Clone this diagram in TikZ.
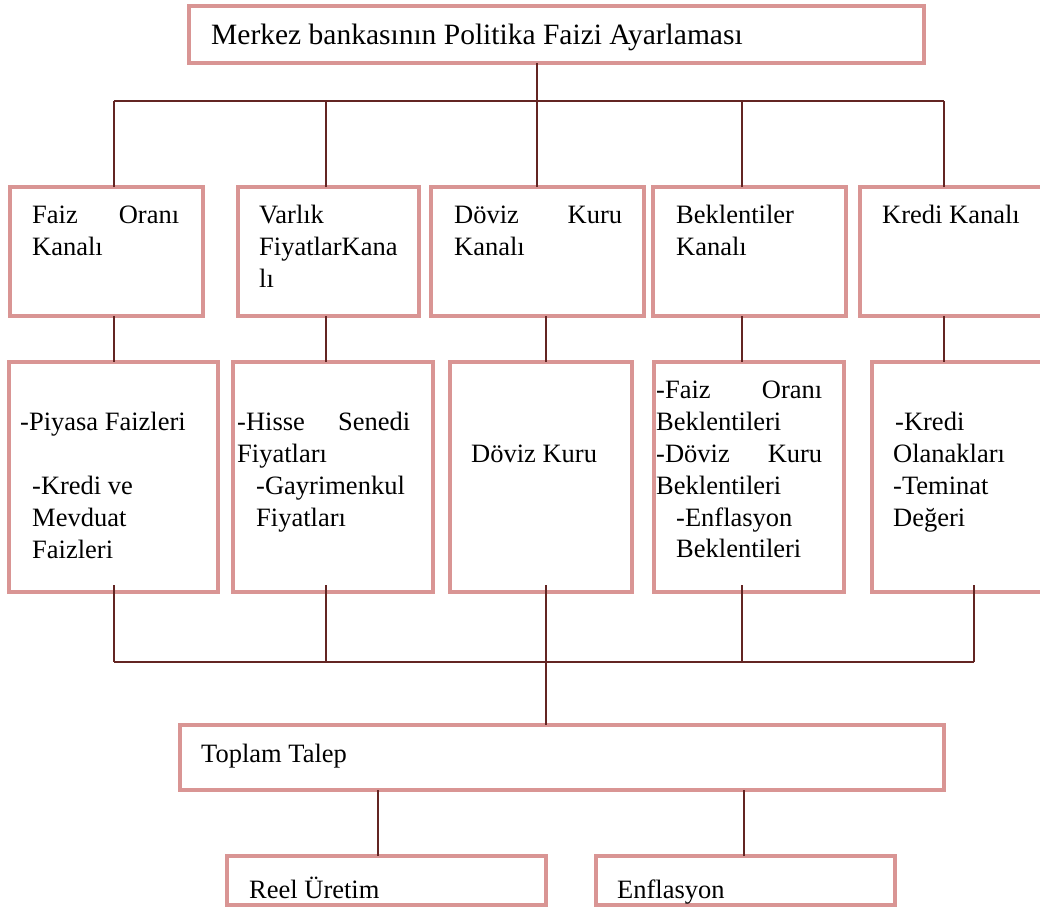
\documentclass[tikz,border=0pt]{standalone}
\usepackage{fontspec}
\setmainfont{Liberation Serif}
\definecolor{boxline}{HTML}{D99594}
\definecolor{connline}{HTML}{632523}
% a line set to a fixed width, its two words pushed to the ends
\newcommand\jline[3]{\hbox to #1pt{#2\hfill #3}}
\begin{document}
\begin{tikzpicture}[x=1pt,y=-1pt,
  box/.style={draw=boxline, line width=3.5pt, fill=white, rectangle,
    inner sep=0pt, outer sep=0pt, anchor=north west},
  conn/.style={draw=connline, line width=1.8pt},
  txt/.style={anchor=base west, inner sep=0pt, font=\fontsize{26.5}{32}\selectfont},
  big/.style={anchor=base west, inner sep=0pt, font=\fontsize{29.5}{35}\selectfont}]
\useasboundingbox[fill=white] (0,0) rectangle (1040,907);

% ---------- boxes ----------
\node[box, minimum width=735pt, minimum height=57pt]  (top)  at (189,6)   {};

\node[box, minimum width=193pt, minimum height=129pt] (r1a) at (10,187)  {};
\node[box, minimum width=181pt, minimum height=129pt] (r1b) at (238,187) {};
\node[box, minimum width=213pt, minimum height=129pt] (r1c) at (431,187) {};
\node[box, minimum width=193pt, minimum height=129pt] (r1d) at (653,187) {};
\node[box, minimum width=195pt, minimum height=129pt] (r1e) at (860,187) {};

\node[box, minimum width=209pt, minimum height=230pt] (r2a) at (9,362)   {};
\node[box, minimum width=200pt, minimum height=230pt] (r2b) at (233,362) {};
\node[box, minimum width=182pt, minimum height=230pt] (r2c) at (450,362) {};
\node[box, minimum width=190pt, minimum height=230pt] (r2d) at (654,362) {};
\node[box, minimum width=183pt, minimum height=230pt] (r2e) at (872,362) {};

\node[box, minimum width=764pt, minimum height=65pt]  (tt)   at (180,725) {};
\node[box, minimum width=319pt, minimum height=49pt]  (reel) at (227,856) {};
\node[box, minimum width=299pt, minimum height=49pt]  (enf)  at (596,856) {};

% ---------- connector joints ----------
\coordinate (busC) at (537,101);
\coordinate (tA) at (114,101);
\coordinate (tB) at (326,101);
\coordinate (tC) at (537,101);
\coordinate (tD) at (742,101);
\coordinate (tE) at (944,101);
\coordinate (mA) at (114,0);
\coordinate (mB) at (326,0);
\coordinate (mC) at (546,0);
\coordinate (mD) at (742,0);
\coordinate (mE) at (944,0);
\coordinate (bA) at (114,662);
\coordinate (bB) at (326,662);
\coordinate (bC) at (546,662);
\coordinate (bD) at (742,662);
\coordinate (bE) at (974,662);
\coordinate (lR) at (378,0);
\coordinate (lE) at (744,0);

% ---------- connectors ----------
\draw[conn] (top.south -| busC) -- (busC);
\draw[conn] (tA) -- (tE);
\foreach \c/\n in {tA/r1a, tB/r1b, tC/r1c, tD/r1d, tE/r1e}
  \draw[conn] (\c) -- (\c |- \n.north);

\foreach \c/\u/\d in {mA/r1a/r2a, mB/r1b/r2b, mC/r1c/r2c, mD/r1d/r2d, mE/r1e/r2e}
  \draw[conn] (\u.south -| \c) -- (\d.north -| \c);

\foreach \c/\n in {bA/r2a, bB/r2b, bC/r2c, bD/r2d, bE/r2e}
  \draw[conn] (\c |- \n.south) ++(0,-7) -- (\c);
\draw[conn] (bA) -- (bE);
\draw[conn] (bC) -- (bC |- tt.north);

\draw[conn] (tt.south -| lR) -- (reel.north -| lR);
\draw[conn] (tt.south -| lE) -- (enf.north -| lE);

% ---------- texts ----------
\node[big] (ttop) at (211,45) {Merkez bankasının Politika Faizi Ayarlaması};

\node[txt] (t1a1) at (32,223)  {\jline{147}{Faiz}{Oranı}};
\node[txt] (t1a2) at (32,255)  {Kanalı};
\node[txt] (t1b1) at (259,223) {Varlık};
\node[txt] (t1b2) at (259,255) {FiyatlarKana};
\node[txt] (t1b3) at (259,287) {lı};
\node[txt] (t1c1) at (454,223) {\jline{168}{Döviz}{Kuru}};
\node[txt] (t1c2) at (454,255) {Kanalı};
\node[txt] (t1d1) at (676,223) {Beklentiler};
\node[txt] (t1d2) at (676,255) {Kanalı};
\node[txt] (t1e1) at (882,223) {Kredi Kanalı};

\node[txt] (t2a1) at (20,430)  {-Piyasa Faizleri};
\node[txt] (t2a2) at (32,494)  {-Kredi ve};
\node[txt] (t2a3) at (32,526)  {Mevduat};
\node[txt] (t2a4) at (32,558)  {Faizleri};
\node[txt] (t2b1) at (237,430) {\jline{173}{-Hisse}{Senedi}};
\node[txt] (t2b2) at (237,462) {Fiyatları};
\node[txt] (t2b3) at (256,494) {-Gayrimenkul};
\node[txt] (t2b4) at (256,526) {Fiyatları};
\node[txt] (t2c1) at (471,462) {Döviz Kuru};
\node[txt] (t2d1) at (656,398) {\jline{166}{-Faiz}{Oranı}};
\node[txt] (t2d2) at (656,430) {Beklentileri};
\node[txt] (t2d3) at (656,462) {\jline{166}{-Döviz}{Kuru}};
\node[txt] (t2d4) at (656,494) {Beklentileri};
\node[txt] (t2d5) at (676,526) {-Enflasyon};
\node[txt] (t2d6) at (676,557) {Beklentileri};
\node[txt] (t2e1) at (895,430) {-Kredi};
\node[txt] (t2e2) at (893,462) {Olanakları};
\node[txt] (t2e3) at (893,494) {-Teminat};
\node[txt] (t2e4) at (893,526) {Değeri};

\node[txt] (ttt)   at (201,762) {Toplam Talep};
\node[txt] (treel) at (249,898) {Reel Üretim};
\node[txt] (tenf)  at (617,898) {Enflasyon};
\end{tikzpicture}
\end{document}
